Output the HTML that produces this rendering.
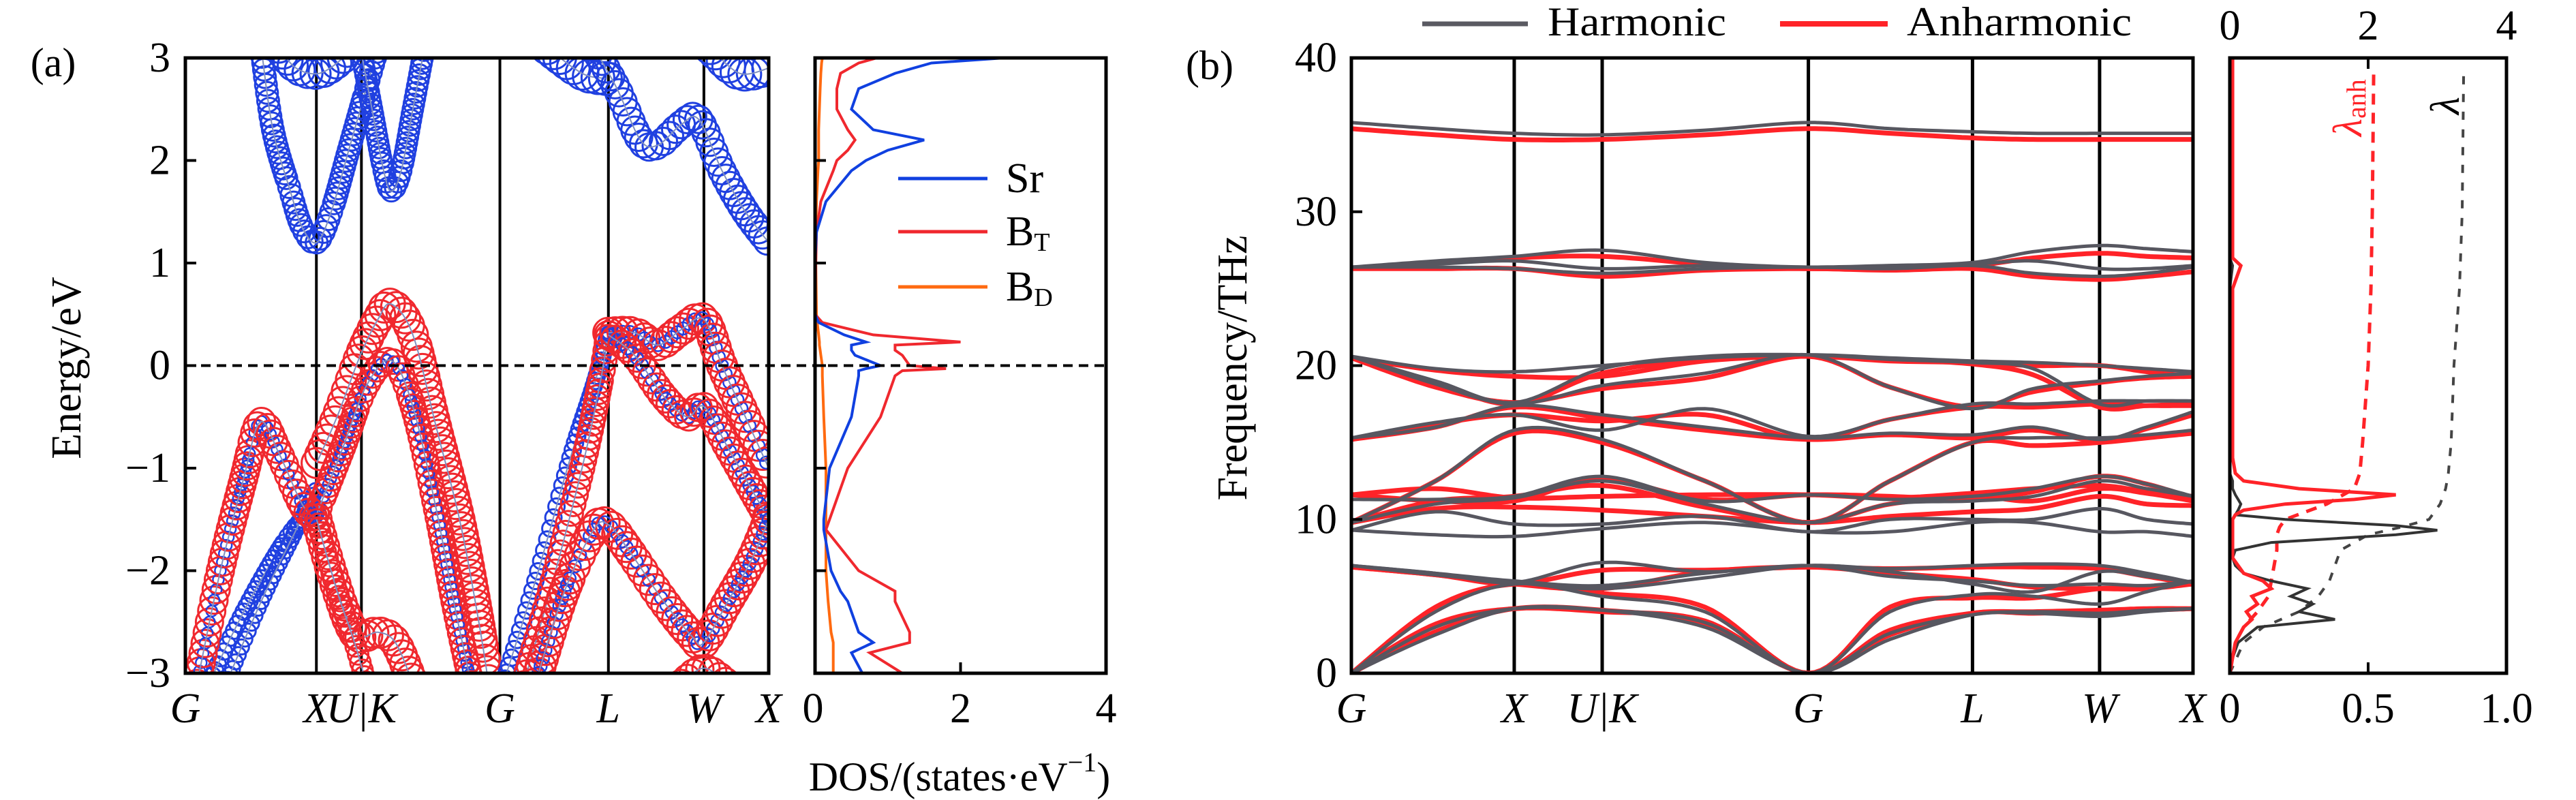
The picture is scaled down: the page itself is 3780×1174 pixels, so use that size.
<!DOCTYPE html>
<html><head><meta charset="utf-8"><style>
html,body{margin:0;padding:0;background:#fff;}
svg{display:block;font-family:"Liberation Serif",serif;}
</style></head><body>
<svg id="fig" width="3780" height="1174" viewBox="0 0 3780 1174" xmlns="http://www.w3.org/2000/svg">
<defs>
<clipPath id="clipA"><rect x="272" y="85" width="856" height="903"/></clipPath>
<clipPath id="clipAD"><rect x="1196" y="85" width="427" height="903"/></clipPath>
<clipPath id="clipB"><rect x="1983" y="85" width="1235" height="903"/></clipPath>
<clipPath id="clipBD"><rect x="3272" y="85" width="406" height="903"/></clipPath>
</defs>
<g id="layer"></g>
</svg>
<script>
// ---------- Panel (a) data ----------
const aTicksE = [-3,-2,-1,0,1,2,3];
const aKLabels = ["G","X","U|K","G","L","W","X"];
const aKPos = [0,0.2246,0.3018,0.5392,0.7252,0.8889,1];
// fat bands: [k-fraction, energy eV]
const bandRedBig1 = [[0.02,-3.1],[0.06,-2.0],[0.1,-1.1],[0.128,-0.55],[0.16,-0.85],[0.2,-1.35],[0.225,-1.5]];
const bandRedBig2 = [[0.225,-0.95],[0.26,-0.5],[0.30,0.1],[0.33,0.45],[0.353,0.6],[0.39,0.3],[0.43,-0.6],[0.47,-1.5],[0.5,-2.4],[0.52,-3.1]];
const bandRedBig3 = [[0.225,-1.45],[0.27,-0.8],[0.31,-0.2],[0.353,0.05],[0.39,-0.4],[0.43,-1.4],[0.46,-2.3],[0.49,-3.1]];
const bandBlue1 = [[0.04,-3.1],[0.1,-2.4],[0.16,-1.8],[0.2,-1.5],[0.225,-1.45]];
const bandBlue2 = [[0.07,-3.1],[0.13,-2.3],[0.19,-1.6],[0.225,-1.2]];
const bandRedLow1 = [[0.225,-1.5],[0.25,-2.0],[0.28,-2.5],[0.30,-2.65],[0.33,-2.6],[0.36,-2.7],[0.39,-3.1]];
const bandRedLow2 = [[0.225,-1.5],[0.26,-2.2],[0.29,-2.7],[0.31,-3.1]];
const bandGL1 = [[0.545,-3.1],[0.6,-2.1],[0.66,-0.9],[0.7,-0.2],[0.725,0.3]];
const bandGL2 = [[0.58,-3.1],[0.63,-2.1],[0.68,-1.0],[0.71,-0.2],[0.725,0.3]];
const bandLWX1 = [[0.725,0.32],[0.77,0.32],[0.81,0.2],[0.85,0.35],[0.889,0.45],[0.92,0.0],[0.96,-0.5],[1.0,-1.0]];
const bandLWX2 = [[0.725,0.3],[0.77,0.1],[0.82,-0.3],[0.86,-0.5],[0.889,-0.4],[0.93,-0.8],[0.97,-1.2],[1.0,-1.5]];
const bandLWX3 = [[0.6,-3.1],[0.65,-2.2],[0.7,-1.6],[0.725,-1.55],[0.76,-1.8],[0.82,-2.3],[0.87,-2.65],[0.889,-2.7],[0.93,-2.3],[0.97,-1.9],[1.0,-1.5]];
const bandLWX4 = [[0.85,-3.1],[0.889,-2.95],[0.93,-3.1]];
const bandCond1 = [[0.13,3.1],[0.15,2.3],[0.18,1.7],[0.2,1.35],[0.225,1.2],[0.25,1.5],[0.28,2.1],[0.31,2.7],[0.33,3.1]];
const bandCond2 = [[0.16,3.1],[0.19,2.9],[0.23,2.85],[0.27,3.0],[0.28,3.1]];
const bandCond3 = [[0.30,3.1],[0.32,2.5],[0.34,1.9],[0.353,1.7],[0.37,1.9],[0.39,2.5],[0.41,3.1]];
const bandCond4 = [[0.70,3.1],[0.74,2.7],[0.78,2.2],[0.81,2.15],[0.85,2.35],[0.88,2.4],[0.92,1.9],[0.96,1.5],[1.0,1.2]];
const bandCond5 = [[0.62,3.1],[0.68,2.85],[0.72,2.8]];
const bandCond6 = [[0.9,3.1],[0.95,2.85],[1.0,2.9]];
// DOS (a)
const dosE = [3,2.95,2.85,2.7,2.5,2.3,2.2,2.1,2.0,1.9,1.6,1.3,1.0,0.5,0.42,0.3,0.23,0.2,0.15,0.1,0.0,-0.03,-0.05,-0.1,-0.5,-1,-1.5,-1.6,-2,-2.2,-2.3,-2.6,-2.7,-2.8,-3];
const dosSr = [2.6,1.6,1.1,0.6,0.5,0.8,1.5,1.0,0.7,0.5,0.15,0.02,0,0,0.05,0.4,0.7,0.5,0.5,0.55,0.9,0.7,0.6,0.6,0.5,0.2,0.12,0.12,0.22,0.35,0.45,0.6,0.8,0.5,0.65];
const dosBT = [0.85,0.6,0.35,0.3,0.3,0.45,0.55,0.45,0.3,0.25,0.08,0.02,0.01,0,0.1,0.8,2.0,1.1,1.1,1.2,1.3,1.8,1.2,1.1,0.9,0.45,0.2,0.15,0.6,1.1,1.1,1.3,1.3,0.75,1.2];
const dosBD = [0.1,0.09,0.08,0.07,0.06,0.05,0.05,0.05,0.05,0.04,0.02,0.01,0.01,0.02,0.03,0.05,0.06,0.06,0.07,0.08,0.1,0.1,0.1,0.1,0.12,0.15,0.15,0.15,0.15,0.17,0.18,0.22,0.25,0.25,0.25];
const dosTicks = [0,2,4];

// ---------- Panel (b) data ----------
const bKLabels = ["G","X","U|K","G","L","W","X"];
const bKPos = [0,0.1935,0.298,0.543,0.738,0.889,1];
const bSampleK = [0,0.1,0.1935,0.298,0.42,0.543,0.64,0.738,0.81,0.889,0.945,1];
const bTicks = [0,10,20,30,40];
const harm1=[0,2.5,4.2,4.1,3,0,2.2,3.8,3.9,3.7,4.0,4.2];
const harm2=[0,3,4.2,4.1,3.3,0,2.6,3.8,4.0,3.9,4.1,4.2];
const harm3=[0,4,5.8,5.0,4,0,4,5.1,5.0,4.5,5.3,6.0];
const harm4=[7.0,6.5,5.9,7.2,6.6,7.0,6.3,6.0,5.7,5.8,5.7,6.0];
const harm5=[7.0,6.5,6.0,5.7,6.5,7.0,6.8,7.0,7.1,7.0,6.5,5.9];
const harm6=[7.0,6.4,5.9,5.5,6.2,7.0,6.6,5.8,5.3,6.6,6.3,5.9];
const harm7=[9.3,9.0,8.9,9.4,9.8,9.2,9.2,9.8,9.8,9.2,9.2,8.9];
const harm8=[9.3,10.5,9.7,9.7,10.2,9.2,10,10.0,10.0,10.7,10,9.7];
const harm9=[9.8,11.0,11.4,12.5,11,9.8,11,11.2,11.5,12.5,12,11.5];
const harm10=[9.8,12.5,15.8,15.2,12.5,9.8,12.5,15.0,15.3,15.3,15.5,15.8];
const harm11=[11.3,11.3,11.5,12.8,11.2,11.6,11.3,11.5,12.0,12.8,12.3,11.5];
const harm12=[15.3,16,17.4,16.8,16,15.3,15.6,15.5,16,15.2,16.0,17];
const harm13=[15.3,16.3,16.8,15.8,17.2,15.4,16.5,17.5,17.5,17.7,17.7,17.7];
const harm14=[20.6,19.8,19.6,20,20.5,20.7,20.5,20.3,20.2,20.0,19.8,19.6];
const harm15=[20.6,18.8,17.5,18.7,19.5,20.7,18.6,17.2,18.5,19,19.3,19.5];
const harm16=[20.6,19.0,17.6,19.8,20.6,20.7,20.4,20.2,19.8,17.5,17.7,17.7];
const harm17=[26.4,26.8,27.1,27.5,26.7,26.4,26.5,26.7,27.4,27.8,27.6,27.4];
const harm18=[26.4,26.6,26.8,26.3,26.5,26.4,26.5,26.6,26.8,26.3,26.3,26.5];
const harm19=[26.4,26.4,26.3,26.0,26.3,26.4,26.3,26.5,26.0,25.8,26.0,26.4];
const harm20=[35.8,35.4,35.1,35.0,35.3,35.8,35.4,35.2,35.1,35.1,35.1,35.1];
const anh1=[0,2.7,4.2,4.1,3.2,0,2.5,3.9,3.9,4.0,4.1,4.2];
const anh2=[0,3.2,4.2,4.0,3.4,0,2.8,3.9,4.0,4.1,4.2,4.2];
const anh3=[0,4.3,5.8,5.2,4.3,0,4.3,4.9,4.9,5.5,5.5,5.9];
const anh4=[6.9,6.4,5.8,5.5,6.6,6.9,6.5,6.1,5.6,5.5,5.5,5.8];
const anh5=[6.9,6.4,5.8,6.7,6.7,6.9,6.8,6.9,6.9,6.8,6.3,5.8];
const anh6=[9.8,10.7,10.8,10.6,10.2,9.8,10.2,10.5,10.7,11.5,11,10.9];
const anh7=[9.8,11.2,11.5,12.2,10.8,9.8,11,11.5,11.2,12.0,11.7,11.2];
const anh8=[9.8,12.5,15.6,15.0,12.5,9.8,12.5,15.0,14.8,15.0,15.3,15.6];
const anh9=[11.6,12.0,11.4,11.5,11.6,11.6,11.4,11.7,12,12.2,11.8,11.5];
const anh10=[11.6,11.2,11.2,12.6,11.3,11.6,11.5,11.3,11.8,12.8,12.3,11.4];
const anh11=[15.2,16.0,17.3,16.6,15.8,15.2,15.5,15.3,15.8,15.1,15.9,16.8];
const anh12=[15.2,16.2,16.8,16.4,16.8,15.2,16.5,17.3,17.3,17.5,17.4,17.4];
const anh13=[20.5,19.7,19.3,19.3,20.3,20.6,20.3,20.2,20.0,20.0,19.6,19.3];
const anh14=[20.5,18.6,17.6,18.5,19.2,20.6,18.6,17.3,18.3,18.9,19.2,19.3];
const anh15=[20.5,18.9,17.5,19.5,20.4,20.6,20.4,20.1,19.4,17.3,17.4,17.5];
const anh16=[26.3,26.7,27.0,27.1,26.6,26.3,26.4,26.5,27.0,27.3,27.1,27.0];
const anh17=[26.3,26.3,26.3,25.8,26.2,26.3,26.2,26.3,25.8,25.6,25.8,26.1];
const anh18=[35.4,35.0,34.7,34.7,35.0,35.4,35.1,34.8,34.7,34.7,34.7,34.7];
// phonon DOS / lambda (b)
const phF = [0,1,2,3,3.5,4,4.5,5,5.5,6,6.5,7,7.5,8,8.5,9,9.3,9.6,10,10.3,10.6,11,11.3,11.6,12,12.5,13,14,20,25,26.5,27,30,40];
const phDosHarm = [0,0.01,0.03,0.1,0.38,0.25,0.3,0.22,0.28,0.15,0.05,0.02,0.01,0.02,0.15,0.6,0.75,0.6,0.2,0.02,0.03,0.04,0.03,0.02,0.01,0.01,0,0,0,0,0.01,0,0,0];
const phDosAnh = [0,0.01,0.02,0.05,0.08,0.06,0.1,0.08,0.15,0.12,0.05,0.03,0.01,0.01,0.01,0.01,0.01,0.01,0.01,0.02,0.05,0.2,0.45,0.6,0.25,0.05,0.02,0.01,0.01,0.01,0.04,0.01,0.01,0.01];
const lamF = [0,2,3,4,5,6,7,8,9,9.5,10,11,12,13,15,20,25,30,39];
const lamAnh = [0,0.02,0.05,0.1,0.14,0.15,0.16,0.17,0.17,0.18,0.2,0.35,0.45,0.47,0.48,0.5,0.51,0.515,0.52];
const lamHarm = [0,0.05,0.12,0.25,0.32,0.36,0.38,0.4,0.5,0.62,0.72,0.76,0.78,0.79,0.8,0.81,0.83,0.84,0.845];
const lamTicks = [0,0.5,1.0];
const topTicks = [0,2,4];

// ---------- helpers ----------
const NS="http://www.w3.org/2000/svg";
const layer=document.getElementById('layer');
function mk(tag,attrs,parent){const e=document.createElementNS(NS,tag);for(const k in attrs)e.setAttribute(k,attrs[k]);(parent||layer).appendChild(e);return e;}
function txt(s,x,y,size,anchor,extra,parent){const t=mk('text',Object.assign({x:x,y:y,'font-size':size,'text-anchor':anchor||'middle','dominant-baseline':'central',fill:'#000'},extra||{}),parent);t.textContent=s;return t;}
function catmull(pts,n){const out=[];for(let i=0;i<pts.length-1;i++){const p0=pts[Math.max(0,i-1)],p1=pts[i],p2=pts[i+1],p3=pts[Math.min(pts.length-1,i+2)];for(let j=0;j<n;j++){const t=j/n,t2=t*t,t3=t2*t;const f=(a,b,c,d)=>0.5*((2*b)+(-a+c)*t+(2*a-5*b+4*c-d)*t2+(-a+3*b-3*c+d)*t3);out.push([f(p0[0],p1[0],p2[0],p3[0]),f(p0[1],p1[1],p2[1],p3[1])]);}}out.push(pts[pts.length-1]);return out;}
function pathD(pts){return pts.map((p,i)=>(i?'L':'M')+p[0].toFixed(1)+' '+p[1].toFixed(1)).join(' ');}

// ---------- Panel (a) ----------
const A={x0:272,x1:1128,y0:85,y1:988,e0:-3,e1:3};
const ax=k=>A.x0+k*(A.x1-A.x0);
const ay=e=>A.y1-(e-A.e0)/(A.e1-A.e0)*(A.y1-A.y0);
const AD={x0:1196,x1:1623};
const adx=v=>AD.x0+v/4*(AD.x1-AD.x0);

const gA=mk('g',{'clip-path':'url(#clipA)'});


aKPos.slice(1,-1).forEach(k=>{const l=mk('line',{x1:ax(k),x2:ax(k),y1:A.y0,y2:A.y1,stroke:'#000','stroke-width':4},gA);});

function fatBand(data,color,r,inner,name){
  const pts=catmull(data.map(p=>[ax(p[0]),ay(p[1])]),12);
  const g=mk('g',{},gA);
  
  
  let acc=0;const step=Math.max(6,r*0.45);
  for(let i=0;i<pts.length;i++){
    if(i>0){acc+=Math.hypot(pts[i][0]-pts[i-1][0],pts[i][1]-pts[i-1][1]);}
    if(i===0||acc>=step){acc=0;mk('circle',{cx:pts[i][0],cy:pts[i][1],r:r,fill:'none',stroke:color,'stroke-width':3},g);
      if(inner)mk('circle',{cx:pts[i][0],cy:pts[i][1],r:inner,fill:'none',stroke:'#2040e0','stroke-width':2.5},g);}
  }
  mk('path',{d:pathD(pts),fill:'none',stroke:'#8090c0','stroke-width':2},g);
}
const RED='#f0282e',BLUE='#2040e0';
fatBand(bandCond2,BLUE,22,0,'band-cond-2');
fatBand(bandCond5,BLUE,24,0,'band-cond-5');
fatBand(bandCond6,BLUE,24,0,'band-cond-6');
fatBand(bandCond1,BLUE,16,0,'band-cond-1');
fatBand(bandCond3,BLUE,15,0,'band-cond-3');
fatBand(bandCond4,BLUE,20,0,'band-cond-4');
fatBand(bandBlue1,BLUE,12,0,'band-val-blue-1');
fatBand(bandBlue2,BLUE,11,0,'band-val-blue-2');
fatBand(bandRedBig1,RED,20,8,'band-val-red-1');
fatBand(bandRedBig2,RED,22,0,'band-val-red-2');
fatBand(bandRedBig3,RED,18,8,'band-val-red-3');
fatBand(bandRedLow1,RED,22,0,'band-val-red-low-1');
fatBand(bandRedLow2,RED,15,0,'band-val-red-low-2');
fatBand(bandGL1,BLUE,12,0,'band-gl-1');
fatBand(bandGL2,RED,18,0,'band-gl-2');
fatBand(bandLWX1,RED,22,9,'band-lwx-1');
fatBand(bandLWX2,RED,20,9,'band-lwx-2');
fatBand(bandLWX3,RED,22,9,'band-lwx-3');
fatBand(bandLWX4,RED,20,0,'band-lwx-4');

// DOS (a)
const gAD=mk('g',{'clip-path':'url(#clipAD)'});


[[dosBD,'#ff6a10','dos-bd'],[dosBT,'#f0282e','dos-bt'],[dosSr,'#1040e0','dos-sr']].forEach(s=>{
  const p=mk('path',{d:pathD(dosE.map((e,i)=>[adx(s[0][i]),ay(e)])),fill:'none',stroke:s[1],'stroke-width':4},gAD);
  
  
});
// fermi line
const fl=mk('line',{x1:A.x0,x2:AD.x1,y1:ay(0),y2:ay(0),stroke:'#000','stroke-width':4,'stroke-dasharray':'14 9'});



// frames & ticks (a)
const fa=mk('rect',{x:A.x0,y:A.y0,width:A.x1-A.x0,height:A.y1-A.y0,fill:'none',stroke:'#000','stroke-width':5});


const fad=mk('rect',{x:AD.x0,y:A.y0,width:AD.x1-AD.x0,height:A.y1-A.y0,fill:'none',stroke:'#000','stroke-width':5});


aTicksE.forEach(e=>{
  mk('line',{x1:A.x0,x2:A.x0+16,y1:ay(e),y2:ay(e),stroke:'#000','stroke-width':4});
  mk('line',{x1:AD.x0,x2:AD.x0+16,y1:ay(e),y2:ay(e),stroke:'#000','stroke-width':4});
  const t=txt(e<0?'\u2212'+(-e):String(e),250,ay(e),62,'end');
  
  
});
aKLabels.forEach((s,i)=>{
  const x=ax(aKPos[i]);
  const t=txt(s,x,1040,62,'middle',{'font-style':'italic'});
  
  
});
dosTicks.forEach(v=>{
  mk('line',{x1:adx(v),x2:adx(v),y1:A.y1,y2:A.y1-16,stroke:'#000','stroke-width':4});
  const t=txt(String(v),adx(v)+(v===0?-3:0),1040,62,'middle');
  
  
});
let t;
t=txt('(a)',78,92,60,'middle');
t=txt('Energy/eV',98,540,62,'middle',{transform:'rotate(-90 98 540)'});
t=mk('text',{x:1408,y:1140,'font-size':60,'text-anchor':'middle','dominant-baseline':'central'});
t.innerHTML='DOS/(states·eV<tspan font-size="40" dy="-22">−1</tspan><tspan dy="22">)</tspan>';

// legend (a)
[['Sr','#1040e0',262,''],['B','#f0282e',340,'T'],['B','#ff6a10',421,'D']].forEach(l=>{
  const g=mk('g',{});
  
  
  mk('line',{x1:1318,x2:1449,y1:l[2],y2:l[2],stroke:l[1],'stroke-width':5},g);
  const tt=mk('text',{x:1476,y:l[2],'font-size':62,'dominant-baseline':'central'},g);
  tt.innerHTML=l[0]+(l[3]?'<tspan font-size="38" dy="16">'+l[3]+'</tspan>':'');
});

// ---------- Panel (b) ----------
const B={x0:1983,x1:3218,y0:85,y1:988,f0:0,f1:40};
const bx=k=>B.x0+k*(B.x1-B.x0);
const by=f=>B.y1-(f-B.f0)/(B.f1-B.f0)*(B.y1-B.y0);
const gB=mk('g',{'clip-path':'url(#clipB)'});


bKPos.slice(1,-1).forEach(k=>{const l=mk('line',{x1:bx(k),x2:bx(k),y1:B.y0,y2:B.y1,stroke:'#000','stroke-width':5},gB);});
const anhBands=[anh1,anh2,anh3,anh4,anh5,anh6,anh7,anh8,anh9,anh10,anh11,anh12,anh13,anh14,anh15,anh16,anh17,anh18];
const harmBands=[harm1,harm2,harm3,harm4,harm5,harm6,harm7,harm8,harm9,harm10,harm11,harm12,harm13,harm14,harm15,harm16,harm17,harm18,harm19,harm20];
function phBand(vals,color,w,name){
  const pts=catmull(bSampleK.map((k,i)=>[bx(k),by(vals[i])]),14);
  const p=mk('path',{d:pathD(pts),fill:'none',stroke:color,'stroke-width':w,'stroke-linejoin':'round'},gB);
  
  
}
anhBands.forEach((v,i)=>phBand(v,'#ff2328',7,'anharmonic-branch-'+(i+1)));
harmBands.forEach((v,i)=>phBand(v,'#575760',5,'harmonic-branch-'+(i+1)));
const fb=mk('rect',{x:B.x0,y:B.y0,width:B.x1-B.x0,height:B.y1-B.y0,fill:'none',stroke:'#000','stroke-width':5});


bTicks.forEach(f=>{
  mk('line',{x1:B.x0,x2:B.x0+16,y1:by(f),y2:by(f),stroke:'#000','stroke-width':4});
  const tt=txt(String(f),1962,by(f),62,'end');
  
  
});
bKLabels.forEach((s,i)=>{
  const tt=txt(s,bx(bKPos[i]),1040,62,'middle',{'font-style':'italic'});
  
  
});
t=txt('(b)',1775,96,60,'middle');
t=txt('Frequency/THz',1809,540,62,'middle',{transform:'rotate(-90 1809 540)'});
// legend (b)
let lg=mk('g',{});
mk('line',{x1:2087,x2:2242,y1:35,y2:35,stroke:'#5a5a62','stroke-width':7},lg);
txt('Harmonic',2271,32,60,'start',{textLength:262,lengthAdjust:'spacingAndGlyphs'},lg);
lg=mk('g',{});
mk('line',{x1:2612,x2:2770,y1:35,y2:35,stroke:'#ff2328','stroke-width':8},lg);
txt('Anharmonic',2798,32,60,'start',{textLength:330,lengthAdjust:'spacingAndGlyphs'},lg);

// DOS / lambda (b)
const BD={x0:3272,x1:3678};
const ldx=v=>BD.x0+v*(BD.x1-BD.x0);
const gBD=mk('g',{'clip-path':'url(#clipBD)'});


let p;
p=mk('path',{d:pathD(lamF.map((f,i)=>[ldx(lamHarm[i]),by(f)])),fill:'none',stroke:'#444','stroke-width':4,'stroke-dasharray':'12 14'},gBD);

p=mk('path',{d:pathD(lamF.map((f,i)=>[ldx(lamAnh[i]),by(f)])),fill:'none',stroke:'#ff2328','stroke-width':5,'stroke-dasharray':'16 12'},gBD);

p=mk('path',{d:pathD(phF.map((f,i)=>[ldx(phDosHarm[i]),by(f)])),fill:'none',stroke:'#333','stroke-width':4},gBD);

p=mk('path',{d:pathD(phF.map((f,i)=>[ldx(phDosAnh[i]),by(f)])),fill:'none',stroke:'#ff2328','stroke-width':5},gBD);

const fbd=mk('rect',{x:BD.x0,y:B.y0,width:BD.x1-BD.x0,height:B.y1-B.y0,fill:'none',stroke:'#000','stroke-width':5});


lamTicks.forEach(v=>{
  mk('line',{x1:ldx(v),x2:ldx(v),y1:B.y1,y2:B.y1-16,stroke:'#000','stroke-width':4});
  const tt=txt(v===0?'0':v.toFixed(1),ldx(v),1040,62,'middle');
  
});
topTicks.forEach(v=>{
  const x=BD.x0+v/4*(BD.x1-BD.x0);
  mk('line',{x1:x,x2:x,y1:B.y0,y2:B.y0+16,stroke:'#000','stroke-width':4});
  const tt=txt(String(v),x,38,62,'middle');
  
});
t=mk('text',{x:0,y:0,'font-size':60,fill:'#ff2328','font-style':'italic',transform:'translate(3445 200) rotate(-90)','dominant-baseline':'central'});
t.innerHTML='λ<tspan font-size="40" font-style="normal" dy="12">anh</tspan>';

t=mk('text',{x:0,y:0,'font-size':60,fill:'#000','font-style':'italic',transform:'translate(3588 155) rotate(-90)','text-anchor':'middle','dominant-baseline':'central'});
t.textContent='λ';

</script>
</body></html>
